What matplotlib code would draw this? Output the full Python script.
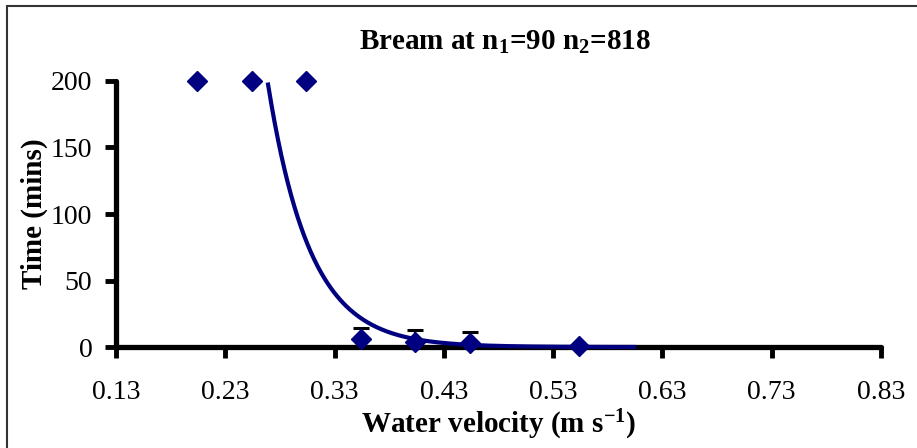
import numpy as np
import matplotlib
matplotlib.use("Agg")
import matplotlib.pyplot as plt
from matplotlib.patches import Rectangle

plt.rcParams['font.family'] = ['Liberation Serif', 'DejaVu Serif']
plt.rcParams['mathtext.fontset'] = 'custom'
plt.rcParams['mathtext.rm'] = 'Liberation Serif'
plt.rcParams['mathtext.bf'] = 'Liberation Serif:bold'
plt.rcParams['mathtext.default'] = 'bf'

# Data
velocity = [0.204, 0.254, 0.304, 0.354, 0.404, 0.454, 0.554]
time_mins = [200, 200, 200, 6, 4, 3, 1]
err_up = [0, 0, 0, 8, 9, 8, 0]
# exponential trendline y = a * exp(-b x)
trend_a = 2.16e5
trend_b = 26.0
trend_range = [0.204, 0.604]
xticks = [0.13, 0.23, 0.33, 0.43, 0.53, 0.63, 0.73, 0.83]
yticks = [0, 50, 100, 150, 200]

navy = '#000080'

fig = plt.figure(figsize=(9.17, 4.48), dpi=100)
fig.patches.append(Rectangle((7 / 917, -0.05), 1.2, (448 - 6) / 448 + 0.05,
                             transform=fig.transFigure, fill=False,
                             edgecolor='#333333', linewidth=1.5))

ax = fig.add_axes([116 / 917, (448 - 347) / 448, (881 - 116) / 917, (347 - 81) / 448])

xs = np.linspace(trend_range[0], trend_range[1], 400)
ys = trend_a * np.exp(-trend_b * xs)
mask = ys <= 200
ax.plot(xs[mask], ys[mask], color=navy, linewidth=3.0, zorder=3, clip_on=False)

# upper-only error bars
vx = [v for v, e in zip(velocity, err_up) if e > 0]
vy = [t for t, e in zip(time_mins, err_up) if e > 0]
ve = [e for e in err_up if e > 0]
ax.vlines(vx, vy, np.array(vy) + np.array(ve), color='black', linewidth=1.6, zorder=4)
ax.plot(vx, np.array(vy) + np.array(ve), linestyle='none', marker='_',
        markersize=12, markeredgewidth=2.2, color='black', zorder=4)

ax.plot(velocity, time_mins, linestyle='none', marker='D', markersize=10,
        color=navy, zorder=5, clip_on=False)

ax.set_xlim(0.13, 0.83)
ax.set_ylim(0, 200)
ax.set_xticks(xticks)
ax.set_xticklabels([f'{t:.2f}' for t in xticks])
ax.set_yticks(yticks)

for s in ['top', 'right']:
    ax.spines[s].set_visible(False)
for s in ['left', 'bottom']:
    ax.spines[s].set_linewidth(3.8)
    ax.spines[s].set_capstyle('round')
    ax.spines[s].set_zorder(2)

ax.tick_params(axis='x', direction='out', length=8, width=3.5, pad=16, labelsize=20)
ax.tick_params(axis='y', direction='out', length=8, width=3.5, pad=9, labelsize=20)
for t in ax.xaxis.get_ticklines() + ax.yaxis.get_ticklines():
    t.set_solid_capstyle('round')

ax.set_xlabel('Water velocity (m s$^{-1}$)', fontsize=21, fontweight='bold', labelpad=2)
ax.set_ylabel('Time (mins)', fontsize=21, fontweight='bold', labelpad=2)

fig.text(505 / 917, 1 - 42 / 448, 'Bream at n$_1$=90 n$_2$=818', ha='center', va='center',
         fontsize=21, fontweight='bold')

fig.savefig('out.png', dpi=100)
